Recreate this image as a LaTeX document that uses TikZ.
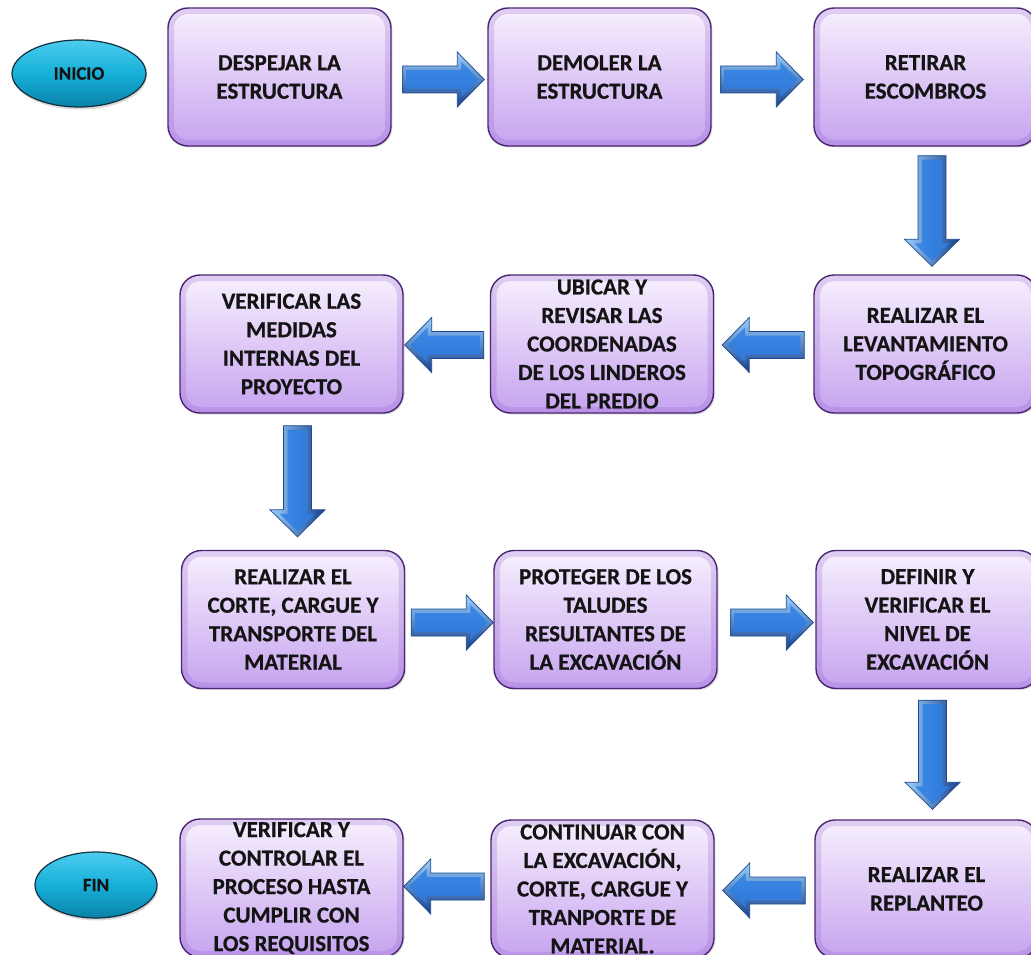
\documentclass[tikz,border=0pt]{standalone}
\usepackage{fontspec}
\setmainfont{Carlito}[BoldFeatures={FakeBold=0.6}]
\usetikzlibrary{calc,shadows,shapes.geometric}

\definecolor{boxtop}{HTML}{F7F0FE}
\definecolor{boxbot}{HTML}{C6A3EF}
\definecolor{boxline}{HTML}{4A2672}
\definecolor{boxglow}{HTML}{8A55C8}
\definecolor{capmid}{HTML}{16B0D8}
\definecolor{captop}{HTML}{4CCCEE}
\definecolor{capbot}{HTML}{0A82A8}
\definecolor{capline}{HTML}{10303F}
\definecolor{arrlight}{HTML}{9CD0FA}
\definecolor{arrface}{HTML}{3A88E6}
\definecolor{arrfacelo}{HTML}{2F78D8}
\definecolor{arrdark}{HTML}{163F8C}
\definecolor{arrline}{HTML}{1D4890}

% horizontal bevelled block arrow from #1 (tail) to #2 (tip)
\newcommand\harrow[2]{%
  \path[blockh] let \p1=#1, \p2=#2, \n1={(\x2-\x1)/abs(\x2-\x1)} in
    ({\x1},{\y1+13.5}) -- ({\x2-\n1*27},{\y1+13.5}) -- ({\x2-\n1*27},{\y1+27.5})
    -- ({\x2},{\y1}) -- ({\x2-\n1*27},{\y1-27.5}) -- ({\x2-\n1*27},{\y1-13.5})
    -- ({\x1},{\y1-13.5}) -- cycle;
  \path[faceh] let \p1=#1, \p2=#2, \n1={(\x2-\x1)/abs(\x2-\x1)} in
    ({\x1+\n1*4},{\y1+9.5}) -- ({\x2-\n1*23},{\y1+9.5}) -- ({\x2-\n1*23},{\y1+17.7})
    -- ({\x2-\n1*5.6},{\y1}) -- ({\x2-\n1*23},{\y1-17.7}) -- ({\x2-\n1*23},{\y1-9.5})
    -- ({\x1+\n1*4},{\y1-9.5}) -- cycle;}
% vertical bevelled block arrow from #1 (tail) to #2 (tip)
\newcommand\varrow[2]{%
  \path[blockv] let \p1=#1, \p2=#2, \n1={(\y2-\y1)/abs(\y2-\y1)} in
    ({\x1-14},{\y1}) -- ({\x1-14},{\y2-\n1*27}) -- ({\x1-27.5},{\y2-\n1*27})
    -- ({\x1},{\y2}) -- ({\x1+27.5},{\y2-\n1*27}) -- ({\x1+14},{\y2-\n1*27})
    -- ({\x1+14},{\y1}) -- cycle;
  \path[facev] let \p1=#1, \p2=#2, \n1={(\y2-\y1)/abs(\y2-\y1)} in
    ({\x1-10},{\y1+\n1*4}) -- ({\x1-10},{\y2-\n1*23}) -- ({\x1-17.7},{\y2-\n1*23})
    -- ({\x1},{\y2-\n1*5.6}) -- ({\x1+17.7},{\y2-\n1*23}) -- ({\x1+10},{\y2-\n1*23})
    -- ({\x1+10},{\y1+\n1*4}) -- cycle;}

\begin{document}
\begin{tikzpicture}[x=1pt,y=1pt,
  stepbox/.style={rectangle, rounded corners=20pt, minimum width=223pt,
    minimum height=138pt, inner sep=0pt, align=center,
    draw=boxline, line width=1.4pt, top color=boxtop, bottom color=boxbot,
    drop shadow={shadow xshift=1.5pt, shadow yshift=-1.5pt, opacity=0.25},
    path picture={\draw[line width=12pt, draw=boxglow, draw opacity=0.22,
      rounded corners=20pt] (path picture bounding box.south west)
      rectangle (path picture bounding box.north east);},
    text=black!92, font=\bfseries\fontsize{23}{28.5}\selectfont},
  endcap/.style={ellipse, inner sep=0pt, draw=capline, line width=1.2pt,
    top color=captop, bottom color=capbot, middle color=capmid,
    drop shadow={shadow xshift=1pt, shadow yshift=-2.5pt, opacity=0.3},
    text=black!92, font=\bfseries\fontsize{19}{22}\selectfont},
  blockh/.style={draw=arrline, line width=0.7pt, line join=miter,
    top color=arrlight, middle color=arrface, bottom color=arrdark},
  faceh/.style={top color=arrface, bottom color=arrfacelo},
  blockv/.style={draw=arrline, line width=0.7pt, line join=miter,
    left color=arrlight, middle color=arrface, right color=arrdark},
  facev/.style={left color=arrface, right color=arrfacelo}]

\useasboundingbox (0,0) rectangle (1031,-955);
\clip (0,0) rectangle (1031,-955);

% start and end
\node[endcap, minimum width=134pt, minimum height=67pt] (ini) at (79,-73.5) {INICIO};
\node[endcap, minimum width=122pt, minimum height=66pt] (fin) at (96,-885) {FIN};

% row 1
\node[stepbox] (b1) at (279.5,-77) {DESPEJAR LA\\ESTRUCTURA};
\node[stepbox] (b2) at (599.5,-77) {DEMOLER LA\\ESTRUCTURA};
\node[stepbox] (b3) at (925.5,-77) {RETIRAR\\ESCOMBROS};
% row 2
\node[stepbox] (b6) at (925.5,-344) {REALIZAR EL\\LEVANTAMIENTO\\TOPOGRÁFICO};
\node[stepbox] (b5) at (602,-344) {UBICAR Y\\REVISAR LAS\\COORDENADAS\\DE LOS LINDEROS\\DEL PREDIO};
\node[stepbox] (b4) at (291.5,-344) {VERIFICAR LAS\\MEDIDAS\\INTERNAS DEL\\PROYECTO};
% row 3
\node[stepbox] (b7) at (293,-619.5) {REALIZAR EL\\CORTE, CARGUE Y\\TRANSPORTE DEL\\MATERIAL};
\node[stepbox] (b8) at (605.5,-619.5) {PROTEGER DE LOS\\TALUDES\\RESULTANTES DE\\LA EXCAVACIÓN};
\node[stepbox] (b9) at (927.5,-619.5) {DEFINIR Y\\VERIFICAR EL\\NIVEL DE\\EXCAVACIÓN};
% row 4
\node[stepbox] (b10) at (926.5,-889) {REALIZAR EL\\REPLANTEO};
\node[stepbox] (b11) at (602.5,-889) {CONTINUAR CON\\LA EXCAVACIÓN,\\CORTE, CARGUE Y\\TRANPORTE DE\\MATERIAL.};
\node[stepbox] (b12) at (291.5,-888) {VERIFICAR Y\\CONTROLAR EL\\PROCESO HASTA\\CUMPLIR CON\\LOS REQUISITOS};

% flow arrows
\harrow{([shift={(11pt,-2.5pt)}]b1.east)}{([shift={(-3pt,-2.5pt)}]b2.west)}
\harrow{([shift={(9pt,-2.5pt)}]b2.east)}{([shift={(-10pt,-2.5pt)}]b3.west)}
\varrow{([shift={(6.5pt,-9pt)}]b3.south)}{([shift={(6.5pt,8pt)}]b6.north)}
\harrow{([shift={(-9pt,-1pt)}]b6.west)}{([shift={(8pt,-1pt)}]b5.east)}
\harrow{([shift={(-6pt,-1pt)}]b5.west)}{([shift={(1pt,-1pt)}]b4.east)}
\varrow{([shift={(6pt,-12pt)}]b4.south)}{([shift={(4.5pt,13pt)}]b7.north)}
\harrow{([shift={(6pt,-3pt)}]b7.east)}{([shift={(0pt,-3pt)}]b8.west)}
\harrow{([shift={(13pt,-3pt)}]b8.east)}{([shift={(-2pt,-3pt)}]b9.west)}
\varrow{([shift={(5pt,-11pt)}]b9.south)}{([shift={(6pt,10pt)}]b10.north)}
\harrow{([shift={(-9pt,-1.5pt)}]b10.west)}{([shift={(8pt,-1.5pt)}]b11.east)}
\harrow{([shift={(-6pt,2.5pt)}]b11.west)}{([shift={(0pt,2.5pt)}]b12.east)}
\end{tikzpicture}
\end{document}
